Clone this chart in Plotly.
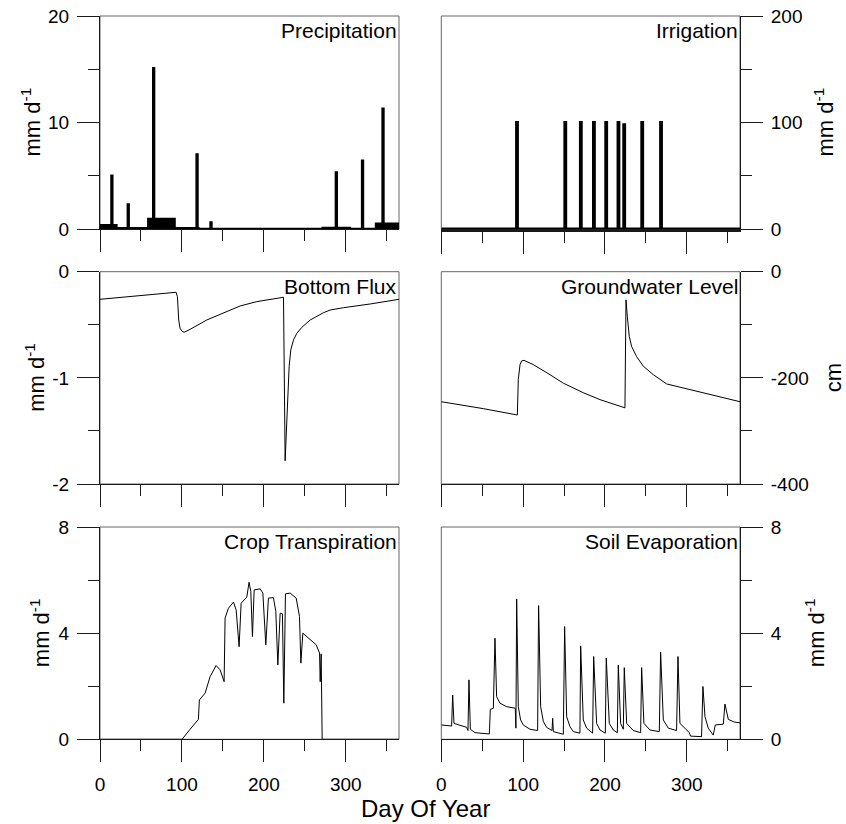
import plotly.graph_objects as go

# ---------------- data ----------------
precip_day = [0, 14, 15, 20, 34, 35, 59, 65, 66, 91, 118, 119, 120, 135, 136, 272, 288, 289, 305, 320, 321, 337, 345, 346, 365]
precip_mm = [0.35, 5.0, 0.35, 0.08, 2.3, 0.08, 0.95, 15.1, 0.95, 0.08, 7.0, 0.08, 0.0, 0.6, 0.0, 0.1, 5.3, 0.1, 0.0, 6.4, 0.0, 0.5, 11.3, 0.5, 0.5]

irrig_event_day = [92, 151, 170, 186, 201, 216, 223, 245, 268]
irrig_event_mm = [100, 100, 100, 100, 100, 100, 98, 100, 100]

flux_day = [0, 30, 60, 92.9, 94.5, 96.1, 97.7, 100.2, 102.6, 110, 130.3, 150.7, 171, 191.4, 210, 224.0,
            226.0, 227.2, 228.1, 229.3, 230.9, 232.9, 236.2, 240.3, 246.4, 256.6, 272.9, 281.0, 297.3, 329.9, 365]
flux_mm = [-0.26, -0.24, -0.22, -0.194, -0.235, -0.455, -0.533, -0.561, -0.571, -0.543, -0.455, -0.386, -0.323, -0.282, -0.258, -0.241,
           -1.78, -1.585, -1.396, -1.114, -0.894, -0.737, -0.643, -0.58, -0.524, -0.455, -0.386, -0.361, -0.339, -0.304, -0.26]

gw_day = [0, 51.3, 92.9, 94.1, 96.2, 98.2, 101, 112.4, 132.8, 149.1, 173.5, 193.9, 224.4, 225.7, 227.3, 229.7,
          232.6, 238.7, 246.8, 259, 275.4, 295.7, 316.1, 352.7, 365]
gw_cm = [-245, -258, -270, -203, -175, -168, -167, -175, -194, -210, -228, -241, -256.5, -53, -84, -122,
         -141, -160, -178, -194, -211.5, -219, -227, -241, -245]

transp_day = [0, 100.2, 110, 120.1, 121.3, 128.3, 134.4, 141.7, 146.6, 151.5, 152.7, 156.8, 162.9, 166.2, 169.8, 172.3,
              179.2, 182, 184.1, 186.1, 188.2, 195.5, 198.8, 202.4, 205.6, 211.7, 214.6, 217.1, 219.9, 222.7, 224.4,
              226.4, 232.1, 239.5, 243.5, 245.2, 247.6, 256.6, 263.9, 268, 268.8, 270, 271.2, 365]
transp_mm = [0, 0, 0.38, 0.75, 1.48, 1.74, 2.36, 2.78, 2.62, 2.17, 4.57, 4.94, 5.17, 4.88, 3.49, 5.13,
             5.36, 5.92, 5.57, 3.87, 5.63, 5.67, 5.51, 3.56, 5.32, 5.34, 4.82, 2.80, 4.75, 4.73, 1.36,
             5.48, 5.51, 5.32, 4.63, 2.87, 4.0, 3.77, 3.56, 3.25, 2.17, 3.22, 0, 0]

evap_day = [0, 12.6, 13.9, 15.5, 31, 32.6, 33.8, 35.5, 41.2, 58.7, 59.9, 63.6, 65.6, 67.6, 71.7, 79.8, 90.4, 91.2,
            92.1, 94.1, 96.9, 100.2, 108.3, 117.7, 118.9, 121.4, 124.7, 128.7, 135.3, 136.1, 136.9, 149.1, 150.7,
            153.2, 157.2, 161.3, 169.4, 170.3, 173.5, 177.6, 184.9, 186.2, 189.8, 193.9, 200.4, 201.6, 205.3,
            210.2, 215.1, 216.3, 219.1, 222.4, 223.6, 226.5, 234.6, 243.6, 244.8, 247.6, 255, 266.4, 268, 271.3,
            277.4, 287.5, 289.2, 291.6, 297.7, 303, 304.6, 318, 319.7, 322.2, 326.2, 332.3, 334.8, 344.6, 346.6,
            350.7, 358, 365]
evap_mm = [0.54, 0.50, 1.67, 0.60, 0.45, 0.33, 2.24, 0.38, 0.25, 0.20, 1.13, 1.17, 3.81, 1.61, 1.36, 1.23, 1.17, 0.42,
           5.29, 1.23, 0.73, 0.54, 0.38, 0.33, 5.04, 1.23, 0.67, 0.45, 0.33, 0.79, 0.29, 0.19, 4.25,
           0.85, 0.48, 0.29, 0.23, 3.52, 0.73, 0.42, 0.23, 3.12, 0.60, 0.35, 0.23, 3.06, 0.60,
           0.35, 0.25, 2.80, 0.60, 0.38, 2.70, 0.60, 0.33, 0.25, 2.70, 0.60, 0.35, 0.29, 3.28, 0.73,
           0.42, 0.33, 3.12, 0.60, 0.42, 0.25, 0.12, 0.10, 1.99, 0.85, 0.42, 0.16, 0.54, 0.57, 1.33,
           0.75, 0.65, 0.62]

panel_titles = ["Precipitation", "Irrigation", "Bottom Flux", "Groundwater Level", "Crop Transpiration", "Soil Evaporation"]
y_ranges = [[0, 20], [0, 200], [-2, 0], [-400, 0], [0, 8], [0, 8]]
y_tickvals = [[0, 10, 20], [0, 100, 200], [-2, -1, 0], [-400, -200, 0], [0, 4, 8], [0, 4, 8]]
y_ticktext = [["0", "10", "20"], ["0", "100", "200"], ["-2", "-1", "0"], ["-400", "-200", "0"], ["0", "4", "8"], ["0", "4", "8"]]
x_tickvals = [0, 100, 200, 300]
x_ticktext = ["0", "100", "200", "300"]

# irrigation as a step series built from the events
irrig_day, irrig_mm = [0], [0]
for d, a in zip(irrig_event_day, irrig_event_mm):
    irrig_day += [d, d + 1]
    irrig_mm += [a, 0]
irrig_day.append(365)
irrig_mm.append(0)

# ---------------- layout ----------------
W, H = 846, 824
FONT = "Liberation Sans, Arial, Helvetica, sans-serif"
col_px = [(100, 399), (441.3, 740)]
row_px = [(16, 229), (271.7, 484), (527, 739.3)]


def fx(x):
    return x / W


def fy(y):
    return 1 - y / H


fig = go.Figure()
series = [
    (precip_day, precip_mm, 2.5, "hv", True),
    (irrig_day, irrig_mm, 3, "hv", True),
    (flux_day, flux_mm, 1, "linear", False),
    (gw_day, gw_cm, 1, "linear", False),
    (transp_day, transp_mm, 1, "linear", False),
    (evap_day, evap_mm, 1, "linear", False),
]
for i, (xd, yd, lw, shp, filled) in enumerate(series):
    sfx = "" if i == 0 else str(i + 1)
    fig.add_trace(go.Scatter(x=xd, y=yd, mode="lines", line=dict(color="black", width=lw, shape=shp),
                             fill="tozeroy" if filled else None, fillcolor="black",
                             xaxis="x" + sfx, yaxis="y" + sfx, showlegend=False, hoverinfo="skip"))

AX = "#1a1a1a"
layout = dict(width=W, height=H, margin=dict(l=0, r=0, t=0, b=0, autoexpand=False),
              plot_bgcolor="white", paper_bgcolor="white",
              font=dict(family=FONT, size=19, color="black"), showlegend=False)
shapes, annotations = [], []
for i in range(6):
    r, c = divmod(i, 2)
    sfx = "" if i == 0 else str(i + 1)
    x0, x1 = col_px[c]
    y0, y1 = row_px[r]
    dt = y_tickvals[i][1] - y_tickvals[i][0]
    layout["xaxis" + sfx] = dict(
        domain=[fx(x0), fx(x1)], anchor="y" + sfx, range=[0, 365], showgrid=False, zeroline=False,
        automargin=False, showline=True, linecolor=AX, linewidth=(2.5 if i == 1 else 1),
        ticks="outside", ticklen=22,
        tickwidth=1, tickcolor=AX, tickvals=x_tickvals, ticktext=x_ticktext, showticklabels=(r == 2),
        tickfont=dict(size=19),
        minor=dict(dtick=50, tick0=0, ticks="outside", ticklen=11, tickwidth=1, tickcolor=AX),
        ticklabelstandoff=6)
    layout["yaxis" + sfx] = dict(
        domain=[fy(y1), fy(y0)], anchor="x" + sfx, range=y_ranges[i], side="left" if c == 0 else "right",
        automargin=False, showgrid=False, zeroline=False, showline=True, linecolor=AX, linewidth=1,
        ticks="outside", ticklen=22, tickwidth=1, tickcolor=AX, tickvals=y_tickvals[i],
        ticktext=y_ticktext[i], tickfont=dict(size=19),
        minor=dict(dtick=dt / 2, tick0=0, ticks="outside", ticklen=11, tickwidth=1, tickcolor=AX),
        ticklabelstandoff=4)
    shapes.append(dict(type="rect", xref="x" + sfx + " domain", yref="y" + sfx + " domain",
                       x0=0, x1=1, y0=0, y1=1, line=dict(color="#666666", width=1), layer="below"))
    annotations.append(dict(text=panel_titles[i], xref="paper", yref="paper", x=fx(x1), y=fy(y0),
                            xanchor="right", yanchor="top", showarrow=False, xshift=-1, yshift=-2,
                            borderpad=0, font=dict(size=21, family=FONT, color="black")))

ytitles = [("mm d<sup>-1</sup>", 30, 0), ("mm d<sup>-1</sup>", 823, 0),
           ("mm d<sup>-1</sup>", 35, 1), ("cm", 833.5, 1),
           ("mm d<sup>-1</sup>", 40, 2), ("mm d<sup>-1</sup>", 815, 2)]
for txt, xc, r in ytitles:
    yc = (row_px[r][0] + row_px[r][1]) / 2
    annotations.append(dict(text=txt, xref="paper", yref="paper", x=fx(xc), y=fy(yc), xanchor="center",
                            yanchor="middle", textangle=-90, showarrow=False, borderpad=0,
                            font=dict(size=22, family=FONT, color="black")))
annotations.append(dict(text="Day Of Year", xref="paper", yref="paper", x=fx(425), y=fy(808),
                        xanchor="center", yanchor="middle", showarrow=False,
                        font=dict(size=24, family=FONT, color="black")))
layout["shapes"] = shapes
layout["annotations"] = annotations
fig.update_layout(**layout)
fig.write_html("out.html", config={"displayModeBar": False},
               post_script="document.body.style.margin='0';document.body.style.padding='0';")
